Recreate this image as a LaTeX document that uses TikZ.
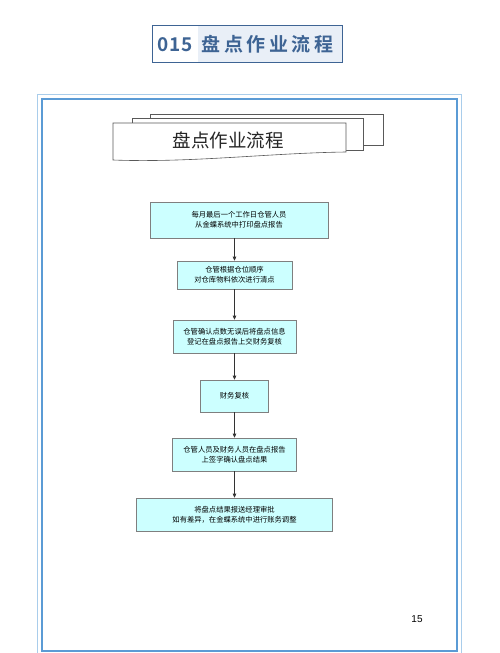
\documentclass[tikz,border=0pt]{standalone}
\usepackage{fontspec}
\newfontfamily\cjk{Noto Sans CJK SC}
\newfontfamily\cjkb{Noto Sans CJK SC Bold}
\setmainfont{Liberation Sans}
\usetikzlibrary{arrows.meta}
\definecolor{framethick}{HTML}{5B9BD5}
\definecolor{framethin}{HTML}{A9CDEB}
\definecolor{titleblue}{HTML}{3E6494}
\definecolor{titlefill}{HTML}{E9EFF7}
\definecolor{boxfill}{HTML}{CCFFFF}
\definecolor{boxline}{HTML}{7F7F7F}
\tikzset{
  flowbox/.style={draw=boxline, fill=boxfill, line width=0.6pt, align=center,
    font=\cjk\fontsize{7.3}{9.6}\selectfont, inner sep=0pt},
  arr/.style={-{Triangle[length=4pt,width=3.5pt]}, line width=0.6pt, draw=black!80},
  docpage/.style={draw=black!65, fill=white, line width=0.6pt}
}
\begin{document}
\begin{tikzpicture}[x=1pt,y=-1pt]
\useasboundingbox (0,0) rectangle (500,653);
\fill[white] (0,0) rectangle (500,653);
% title box
\fill[titlefill] (152,25) rectangle (342,62);
\fill[white] (152,25) rectangle (198,62);
\node[draw=titleblue, line width=1pt, minimum width=190pt, minimum height=37pt, inner sep=0pt] (title) at (247,43.5) {};
\node[anchor=west, text=titleblue, font=\cjkb\fontsize{19}{22}\selectfont, inner sep=0pt] (ttext) at (157,44) {0\hspace{1pt}1\hspace{1pt}5\hspace{9pt}盘\hspace{3.5pt}点\hspace{3.5pt}作\hspace{3.5pt}业\hspace{3.5pt}流\hspace{3.5pt}程};
% frame
\draw[framethin, line width=1pt] (37,94) -- (461,94);
\draw[framethin, line width=1pt] (37,94) -- (37,660);
\draw[framethin, line width=1pt] (461,94) -- (461,660);
\draw[framethick, line width=2.5pt] (42,99) rectangle (457,651);
% stacked doc header
\draw[docpage] (150,114) rectangle (383,145);
\draw[docpage] (132,118) rectangle (363,150);
\draw[docpage] (113,123) -- (346,123) -- (346,152) .. controls (270,153) and (190,163) .. (113,160) -- cycle;
\node[font=\cjk\fontsize{18.5}{20}\selectfont, text=black!85, inner sep=0pt] (head) at (228,140) {盘点作业流程};
% flow boxes
\node[flowbox, minimum width=178pt, minimum height=36pt] (b1) at (239,220) {每月最后一个工作日仓管人员\\从金蝶系统中打印盘点报告};
\node[flowbox, minimum width=115pt, minimum height=28pt] (b2) at (234.5,275) {仓管根据仓位顺序\\对仓库物料依次进行清点};
\node[flowbox, minimum width=123pt, minimum height=33pt] (b3) at (234.5,336.5) {仓管确认点数无误后将盘点信息\\登记在盘点报告上交财务复核};
\node[flowbox, minimum width=68pt, minimum height=32pt] (b4) at (234.5,396) {财务复核};
\node[flowbox, minimum width=124pt, minimum height=33pt] (b5) at (234.5,454.5) {仓管人员及财务人员在盘点报告\\上签字确认盘点结果};
\node[flowbox, minimum width=196pt, minimum height=33pt] (b6) at (234.5,514.5) {将盘点结果报送经理审批\\如有差异，在金蝶系统中进行账务调整};
% arrows
\draw[arr] (b1.south -| b2.north) -- (b2.north);
\draw[arr] (b2.south) -- (b3.north);
\draw[arr] (b3.south) -- (b4.north);
\draw[arr] (b4.south) -- (b5.north);
\draw[arr] (b5.south) -- (b6.north);
% page number
\node[font=\fontsize{10}{12}\selectfont, inner sep=0pt] (pg) at (417,619) {15};
\end{tikzpicture}
\end{document}
